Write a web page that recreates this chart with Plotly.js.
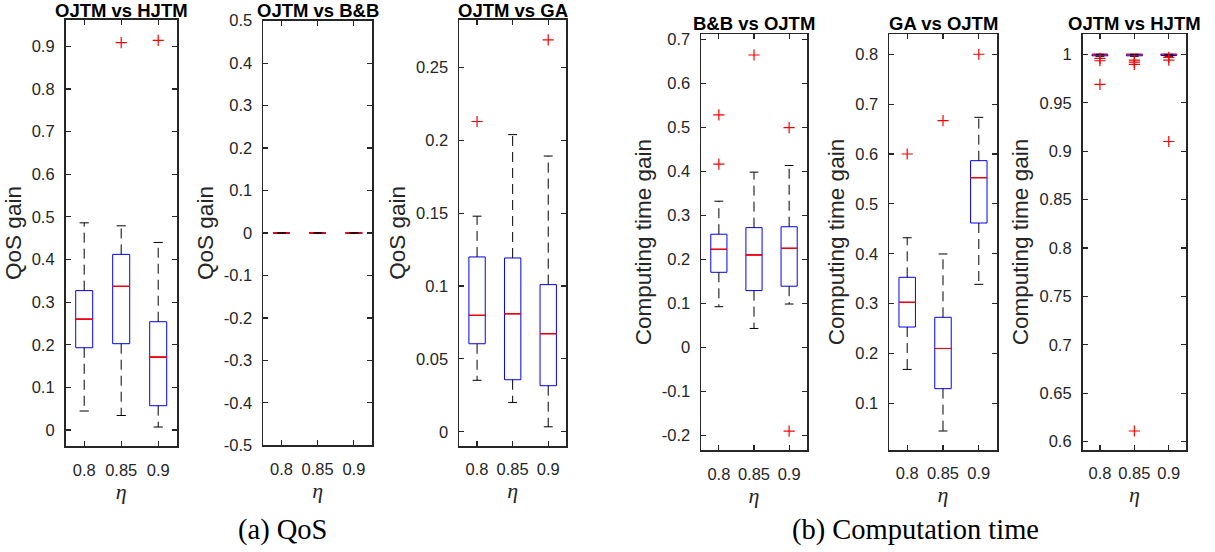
<!DOCTYPE html>
<html>
<head>
<meta charset="utf-8">
<script src="https://cdn.plot.ly/plotly-3.0.1.min.js"></script>
<style>html,body{margin:0;padding:0;background:#fff}#chart{width:1215px;height:552px}</style>
</head>
<body>
<div id="chart"></div>
<script>
// ---------- categories ----------
const etaLabels = ['0.8', '0.85', '0.9'];
const etaPos = [1, 2, 3];

// ---------- (a) QoS : OJTM vs HJTM ----------
const qosHJTM_q1 = [0.193, 0.2025, 0.057];
const qosHJTM_med = [0.260, 0.337, 0.171];
const qosHJTM_q3 = [0.327, 0.412, 0.254];
const qosHJTM_lo = [0.0446, 0.034, 0.007];
const qosHJTM_hi = [0.486, 0.479, 0.440];
const qosHJTM_out = [[], [0.9085], [0.914]];
const qosHJTM_ticks = [0, 0.1, 0.2, 0.3, 0.4, 0.5, 0.6, 0.7, 0.8, 0.9];

// ---------- (a) QoS : OJTM vs B&B ----------
const qosBB_q1 = [0, 0, 0];
const qosBB_med = [0, 0, 0];
const qosBB_q3 = [0, 0, 0];
const qosBB_lo = [0, 0, 0];
const qosBB_hi = [0, 0, 0];
const qosBB_out = [[], [], []];
const qosBB_ticks = [-0.5, -0.4, -0.3, -0.2, -0.1, 0, 0.1, 0.2, 0.3, 0.4, 0.5];

// ---------- (a) QoS : OJTM vs GA ----------
const qosGA_q1 = [0.0604, 0.0357, 0.0316];
const qosGA_med = [0.0799, 0.0810, 0.0673];
const qosGA_q3 = [0.120, 0.1193, 0.101];
const qosGA_lo = [0.0353, 0.0201, 0.0034];
const qosGA_hi = [0.148, 0.204, 0.1893];
const qosGA_out = [[0.213], [], [0.269]];
const qosGA_ticks = [0, 0.05, 0.1, 0.15, 0.2, 0.25];

// ---------- (b) Computation time : B&B vs OJTM ----------
const timeBB_q1 = [0.1705, 0.129, 0.139];
const timeBB_med = [0.2227, 0.210, 0.225];
const timeBB_q3 = [0.257, 0.272, 0.274];
const timeBB_lo = [0.0924, 0.043, 0.0985];
const timeBB_hi = [0.332, 0.398, 0.413];
const timeBB_out = [[0.528, 0.416], [0.664], [0.499, -0.190]];
const timeBB_ticks = [-0.2, -0.1, 0, 0.1, 0.2, 0.3, 0.4, 0.5, 0.6, 0.7];

// ---------- (b) Computation time : GA vs OJTM ----------
const timeGA_q1 = [0.253, 0.1294, 0.4616];
const timeGA_med = [0.3025, 0.210, 0.5525];
const timeGA_q3 = [0.3527, 0.2725, 0.5866];
const timeGA_lo = [0.168, 0.0445, 0.3386];
const timeGA_hi = [0.432, 0.3995, 0.6735];
const timeGA_out = [[0.600], [0.667], [0.800]];
const timeGA_ticks = [0.1, 0.2, 0.3, 0.4, 0.5, 0.6, 0.7, 0.8];

// ---------- (b) Computation time : OJTM vs HJTM ----------
const timeHJTM_q1 = [0.9985, 0.9985, 0.9988];
const timeHJTM_med = [1, 1, 1];
const timeHJTM_q3 = [1, 1, 1];
const timeHJTM_lo = [0.998, 0.998, 0.998];
const timeHJTM_hi = [1, 1, 1];
const timeHJTM_out = [[0.9959, 0.9934, 0.969], [0.9941, 0.992, 0.9897, 0.611], [0.9969, 0.9941, 0.910]];
const timeHJTM_ticks = [0.6, 0.65, 0.7, 0.75, 0.8, 0.85, 0.9, 0.95, 1];

// ---------- assembly ----------
const panels = [
  {title: 'OJTM vs HJTM', ytitle: 'QoS gain', q1: qosHJTM_q1, med: qosHJTM_med, q3: qosHJTM_q3, lo: qosHJTM_lo, hi: qosHJTM_hi, out: qosHJTM_out, ticks: qosHJTM_ticks,
   range: [-0.0375, 0.9618], xd: [65.7, 176.7], yd: [20, 446], ty: 10.5},
  {title: 'OJTM vs B&B', ytitle: 'QoS gain', q1: qosBB_q1, med: qosBB_med, q3: qosBB_q3, lo: qosBB_lo, hi: qosBB_hi, out: qosBB_out, ticks: qosBB_ticks,
   range: [-0.5, 0.5], xd: [263.3, 372], yd: [20.7, 445.3], ty: 10.5},
  {title: 'OJTM vs GA', ytitle: 'QoS gain', q1: qosGA_q1, med: qosGA_med, q3: qosGA_q3, lo: qosGA_lo, hi: qosGA_hi, out: qosGA_out, ticks: qosGA_ticks,
   range: [-0.0096, 0.2827], xd: [459.3, 566], yd: [20, 445.7], ty: 10.5},
  {title: 'B&B vs OJTM', ytitle: 'Computing time gain', q1: timeBB_q1, med: timeBB_med, q3: timeBB_q3, lo: timeBB_lo, hi: timeBB_hi, out: timeBB_out, ticks: timeBB_ticks,
   range: [-0.233, 0.711], xd: [701.3, 806.7], yd: [34.3, 450], ty: 23.5},
  {title: 'GA vs OJTM', ytitle: 'Computing time gain', q1: timeGA_q1, med: timeGA_med, q3: timeGA_q3, lo: timeGA_lo, hi: timeGA_hi, out: timeGA_out, ticks: timeGA_ticks,
   range: [0.007, 0.840], xd: [889.3, 996.7], yd: [34.3, 449.7], ty: 23.5},
  {title: 'OJTM vs HJTM', ytitle: 'Computing time gain', q1: timeHJTM_q1, med: timeHJTM_med, q3: timeHJTM_q3, lo: timeHJTM_lo, hi: timeHJTM_hi, out: timeHJTM_out, ticks: timeHJTM_ticks,
   range: [0.5917, 1.0207], xd: [1082.7, 1186], yd: [34.3, 449.7], ty: 23.5}
];

const W = 1215, H = 552;
const boxW = 0.46, capHalf = 0.125;
const axisColor = '#262626';
const traces = [];
const layout = {
  width: W, height: H,
  margin: {l: 0, r: 0, t: 0, b: 0},
  paper_bgcolor: '#ffffff', plot_bgcolor: '#ffffff',
  showlegend: false,
  font: {family: 'Liberation Sans, Arial, sans-serif', color: axisColor, size: 16},
  annotations: []
};

panels.forEach((p, k) => {
  const n = k === 0 ? '' : String(k + 1);
  const xa = 'x' + n, ya = 'y' + n;

  // whiskers (dashed) and caps
  const wx = [], wy = [], cx = [], cy = [];
  etaPos.forEach((x, i) => {
    wx.push(x, x, null, x, x, null);
    wy.push(p.q3[i], p.hi[i], null, p.q1[i], p.lo[i], null);
    cx.push(x - capHalf, x + capHalf, null, x - capHalf, x + capHalf, null);
    cy.push(p.hi[i], p.hi[i], null, p.lo[i], p.lo[i], null);
  });
  traces.push({type: 'scatter', mode: 'lines', x: wx, y: wy, xaxis: xa, yaxis: ya,
    line: {color: '#000000', width: 1, dash: '10px,6px'}, hoverinfo: 'skip'});
  traces.push({type: 'scatter', mode: 'lines', x: cx, y: cy, xaxis: xa, yaxis: ya,
    line: {color: '#000000', width: 1}, hoverinfo: 'skip'});

  // box (blue)
  traces.push({type: 'box', x: etaPos, q1: p.q1, median: p.med, q3: p.q3,
    lowerfence: p.q1, upperfence: p.q3, width: boxW, xaxis: xa, yaxis: ya,
    line: {color: '#0000ff', width: 1}, fillcolor: 'rgba(0,0,0,0)', boxpoints: false, whiskerwidth: 0});
  // median (red)
  traces.push({type: 'box', x: etaPos, q1: p.med, median: p.med, q3: p.med,
    lowerfence: p.med, upperfence: p.med, width: boxW, xaxis: xa, yaxis: ya,
    line: {color: '#ff0000', width: 1}, fillcolor: 'rgba(0,0,0,0)', boxpoints: false, whiskerwidth: 0});

  // outliers
  const ox = [], oy = [];
  p.out.forEach((arr, i) => arr.forEach(v => { ox.push(etaPos[i]); oy.push(v); }));
  traces.push({type: 'scatter', mode: 'markers', x: ox, y: oy, xaxis: xa, yaxis: ya,
    marker: {symbol: 'cross-thin-open', size: 8, color: '#ff0000', line: {color: '#ff0000', width: 1.2}}, hoverinfo: 'skip'});

  layout['xaxis' + n] = {
    domain: [p.xd[0] / W, p.xd[1] / W], anchor: ya, range: [0.5, 3.5],
    tickmode: 'array', tickvals: etaPos, ticktext: etaLabels,
    ticks: 'inside', ticklen: 5, tickwidth: 1.2, tickcolor: axisColor,
    showline: true, linecolor: axisColor, linewidth: 1.8, mirror: 'ticks',
    showgrid: false, zeroline: false, ticklabelstandoff: 8,
    tickfont: {size: 16.5, color: axisColor},
    title: {text: 'η', font: {family: 'Liberation Serif, serif', size: 22, color: axisColor, style: 'italic'}, standoff: 4}
  };
  layout['yaxis' + n] = {
    domain: [1 - p.yd[1] / H, 1 - p.yd[0] / H], anchor: xa, range: p.range,
    tickmode: 'array', tickvals: p.ticks, ticktext: p.ticks.map(String),
    ticks: 'inside', ticklen: 5, tickwidth: 1.2, tickcolor: axisColor,
    showline: true, linecolor: axisColor, linewidth: 1.8, mirror: 'ticks',
    showgrid: false, zeroline: false, ticklabelstandoff: 6,
    tickfont: {size: 16.5, color: axisColor},
    title: {text: p.ytitle, font: {size: 22.5, color: axisColor}, standoff: 4}
  };
  layout.annotations.push({
    text: '<b>' + p.title.replace('&', '&amp;') + '</b>', showarrow: false,
    xref: 'paper', yref: 'paper', x: (p.xd[0] + p.xd[1]) / 2 / W, y: 1 - p.ty / H,
    xanchor: 'center', yanchor: 'middle',
    font: {size: 18.5, color: '#000000', family: 'Liberation Sans, Arial, sans-serif'}
  });
});

// figure captions
layout.annotations.push({text: '(a) QoS', showarrow: false, xref: 'paper', yref: 'paper',
  x: 282 / W, y: 1 - 530 / H, xanchor: 'center', yanchor: 'middle',
  font: {family: 'Liberation Serif, serif', size: 28.5, color: '#000000'}});
layout.annotations.push({text: '(b) Computation time', showarrow: false, xref: 'paper', yref: 'paper',
  x: 915 / W, y: 1 - 530 / H, xanchor: 'center', yanchor: 'middle',
  font: {family: 'Liberation Serif, serif', size: 28.5, color: '#000000'}});

Plotly.newPlot('chart', traces, layout, {staticPlot: true, displayModeBar: false});
</script>
</body>
</html>
